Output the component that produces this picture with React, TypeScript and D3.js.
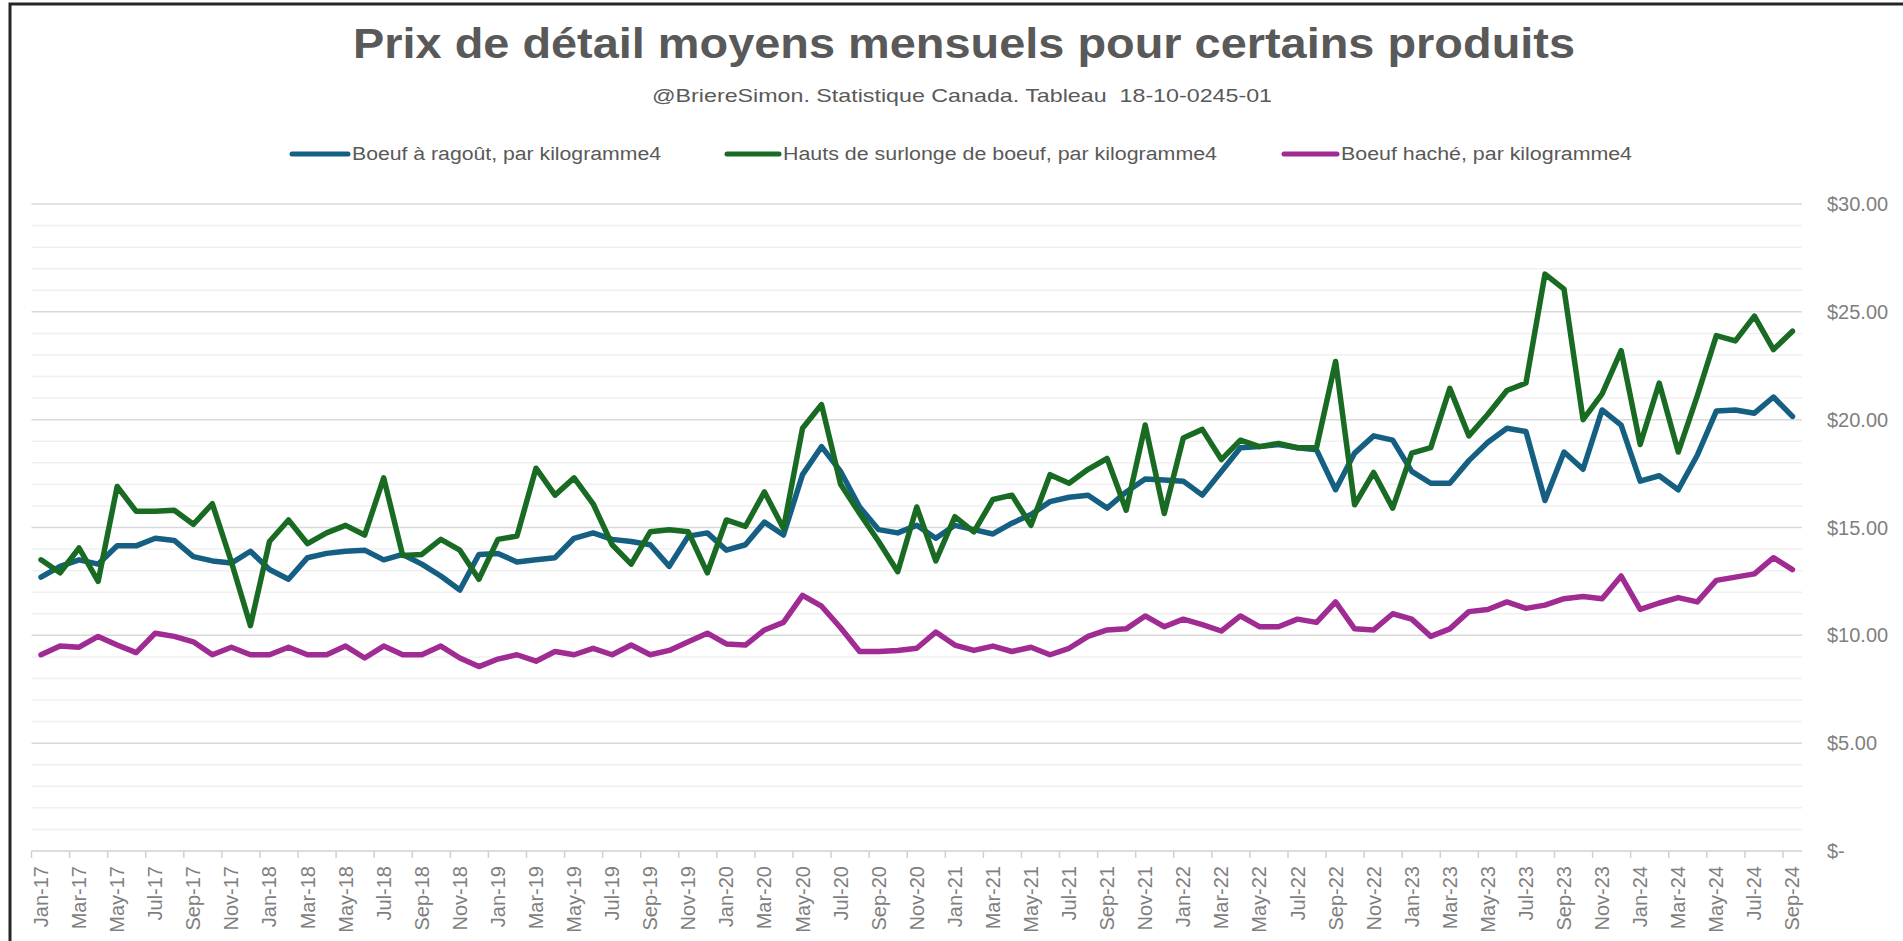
import React from "react";
import * as d3 from "d3";

// Categories: Jan-17 ... Sep-24 (monthly)
const MONTHS = ["Jan", "Feb", "Mar", "Apr", "May", "Jun", "Jul", "Aug", "Sep", "Oct", "Nov", "Dec"];
const YEARS = ["17", "18", "19", "20", "21", "22", "23", "24"];
const categories: string[] = YEARS.flatMap((yy) => MONTHS.map((m) => `${m}-${yy}`)).slice(0, 93);

// Boeuf à ragoût, par kilogramme
const ragout = [
  12.7, 13.2, 13.5, 13.3, 14.15, 14.15, 14.5, 14.4, 13.65, 13.45, 13.35, 13.9,
  13.05, 12.6, 13.6, 13.8, 13.9, 13.95, 13.5, 13.75, 13.3, 12.75, 12.1, 13.75,
  13.8, 13.4, 13.5, 13.6, 14.5, 14.75, 14.45, 14.35, 14.2, 13.2, 14.6, 14.75,
  13.95, 14.2, 15.25, 14.65, 17.45, 18.75, 17.6, 15.95, 14.9, 14.75, 15.1, 14.5,
  15.1, 14.9, 14.7, 15.2, 15.6, 16.2, 16.4, 16.5, 15.9, 16.65, 17.25, 17.2,
  17.15, 16.5, 17.6, 18.7, 18.75, 18.85, 18.7, 18.6, 16.75, 18.45, 19.25, 19.05,
  17.6, 17.05, 17.05, 18.1, 18.95, 19.6, 19.45, 16.25, 18.5, 17.7, 20.45, 19.75,
  17.15, 17.4, 16.75, 18.35, 20.4, 20.45, 20.3, 21.05, 20.15,
];

// Hauts de surlonge de boeuf, par kilogramme
const surlonge = [
  13.5, 12.9, 14.05, 12.5, 16.9, 15.75, 15.75, 15.8, 15.15, 16.1, 13.4, 10.45,
  14.35, 15.35, 14.25, 14.75, 15.1, 14.65, 17.3, 13.7, 13.75, 14.45, 13.95, 12.6,
  14.45, 14.6, 17.75, 16.5, 17.3, 16.1, 14.2, 13.3, 14.8, 14.9, 14.8, 12.9,
  15.35, 15.05, 16.65, 14.95, 19.6, 20.7, 17.0, 15.65, 14.35, 12.95, 15.95, 13.45,
  15.5, 14.8, 16.3, 16.5, 15.1, 17.45, 17.05, 17.7, 18.2, 15.8, 19.75, 15.65,
  19.15, 19.55, 18.15, 19.05, 18.75, 18.9, 18.7, 18.7, 22.7, 16.05, 17.55, 15.9,
  18.45, 18.7, 21.45, 19.25, 20.25, 21.35, 21.7, 26.75, 26.05, 20.0, 21.2, 23.2,
  18.85, 21.7, 18.5, 21.1, 23.9, 23.65, 24.8, 23.25, 24.1,
];

// Boeuf haché, par kilogramme
const hache = [
  9.1, 9.5, 9.45, 9.95, 9.55, 9.2, 10.1, 9.95, 9.7, 9.1, 9.45, 9.1,
  9.1, 9.45, 9.1, 9.1, 9.5, 8.95, 9.5, 9.1, 9.1, 9.5, 8.95, 8.55,
  8.9, 9.1, 8.8, 9.25, 9.1, 9.4, 9.1, 9.55, 9.1, 9.3, 9.7, 10.1,
  9.6, 9.55, 10.25, 10.6, 11.85, 11.35, 10.35, 9.25, 9.25, 9.3, 9.4, 10.15,
  9.55, 9.3, 9.5, 9.25, 9.45, 9.1, 9.4, 9.95, 10.25, 10.3, 10.9, 10.4,
  10.75, 10.5, 10.2, 10.9, 10.4, 10.4, 10.75, 10.6, 11.55, 10.3, 10.25, 11.0,
  10.75, 9.95, 10.3, 11.1, 11.2, 11.55, 11.25, 11.4, 11.7, 11.8, 11.7, 12.75,
  11.2, 11.5, 11.75, 11.55, 12.55, 12.7, 12.85, 13.6, 13.05,
];

const seriesNames = [
  "Boeuf à ragoût, par kilogramme4",
  "Hauts de surlonge de boeuf, par kilogramme4",
  "Boeuf haché, par kilogramme4",
];
const seriesColors = ["#156082", "#196B24", "#A02B93"];
const yTicks = [0, 5, 10, 15, 20, 25, 30];

const W = 1903;
const H = 941;
const narrow = "'Liberation Sans Narrow', 'Arial Narrow', 'Liberation Sans', Arial, sans-serif";
const sans = "'Liberation Sans', Arial, sans-serif";

const App: React.FC = () => {
  const x = d3.scaleBand<string>().domain(categories).range([31.5, 1802]);
  const y = d3.scaleLinear().domain([0, 30]).range([851, 204]);
  const cx = (c: string) => (x(c) || 0) + x.bandwidth() / 2;

  const line = d3
    .line<number>()
    .x((_, i) => cx(categories[i]))
    .y((d) => y(d));

  const series = [ragout, surlonge, hache];
  const minor = d3.range(1, 31).filter((v) => v % 5 !== 0);
  const major = yTicks.filter((v) => v > 0);

  // legend layout (swatch start, text start, text length)
  const legend = [
    { sx: 292, tx: 352, len: 309 },
    { sx: 727, tx: 783, len: 434 },
    { sx: 1284, tx: 1341, len: 291 },
  ];

  const fmt = (v: number) => (v === 0 ? "$-" : `$${v.toFixed(2)}`);

  return (
    <svg
      width={W}
      height={H}
      style={{ position: "absolute", left: 0, top: 0, background: "#fff" }}
    >
      <rect x={0} y={0} width={W} height={H} fill="#fff" />
      {/* chart frame */}
      <rect x={10} y={4} width={W + 50} height={H + 50} fill="none" stroke="#262626" strokeWidth={3} />

      {/* title */}
      <text
        x={964}
        y={58}
        textAnchor="middle"
        fontFamily={narrow}
        fontWeight="bold"
        fontSize={42}
        fill="#595959"
        textLength={1222}
        lengthAdjust="spacingAndGlyphs"
      >
        Prix de détail moyens mensuels pour certains produits
      </text>
      <text
        x={962}
        y={102}
        textAnchor="middle"
        fontFamily={narrow}
        fontSize={19}
        fill="#595959"
        textLength={620}
        lengthAdjust="spacingAndGlyphs"
        style={{ whiteSpace: "pre" }}
      >
        {"@BriereSimon. Statistique Canada. Tableau  18-10-0245-01"}
      </text>

      {/* legend */}
      {legend.map((l, i) => (
        <g key={seriesNames[i]}>
          <line
            x1={l.sx}
            x2={l.tx - 4}
            y1={154}
            y2={154}
            stroke={seriesColors[i]}
            strokeWidth={5}
            strokeLinecap="round"
          />
          <text
            x={l.tx}
            y={160}
            fontFamily={narrow}
            fontSize={18}
            fill="#595959"
            textLength={l.len}
            lengthAdjust="spacingAndGlyphs"
          >
            {seriesNames[i]}
          </text>
        </g>
      ))}

      {/* gridlines */}
      {minor.map((v) => (
        <line key={`mi${v}`} x1={31.5} x2={1802} y1={y(v)} y2={y(v)} stroke="#f0f0f0" strokeWidth={1.5} />
      ))}
      {major.map((v) => (
        <line key={`ma${v}`} x1={31.5} x2={1802} y1={y(v)} y2={y(v)} stroke="#d9d9d9" strokeWidth={1.5} />
      ))}
      {/* category axis */}
      <line x1={31.5} x2={1802} y1={y(0)} y2={y(0)} stroke="#d0d0d0" strokeWidth={1.5} />
      {categories.map((c, i) =>
        i % 2 === 0 ? (
          <line key={`t${c}`} x1={x(c)} x2={x(c)} y1={y(0)} y2={y(0) + 7} stroke="#d0d0d0" strokeWidth={1.5} />
        ) : null
      )}
      {categories.map((c, i) =>
        i % 2 === 0 ? (
          <text
            key={`l${c}`}
            transform={`translate(${cx(c)},866) rotate(-90)`}
            textAnchor="end"
            dominantBaseline="central"
            fontFamily={sans}
            fontSize={20}
            fill="#7f7f7f"
          >
            {c}
          </text>
        ) : null
      )}

      {/* value axis labels (right) */}
      {yTicks.map((v) => (
        <text
          key={`y${v}`}
          x={1827}
          y={y(v)}
          dominantBaseline="central"
          fontFamily={sans}
          fontSize={20}
          fill="#7f7f7f"
        >
          {fmt(v)}
        </text>
      ))}

      {/* series */}
      {series.map((s, i) => (
        <path
          key={seriesNames[i]}
          d={line(s) || ""}
          fill="none"
          stroke={seriesColors[i]}
          strokeWidth={5.5}
          strokeLinejoin="round"
          strokeLinecap="round"
        />
      ))}
    </svg>
  );
};

export default App;
